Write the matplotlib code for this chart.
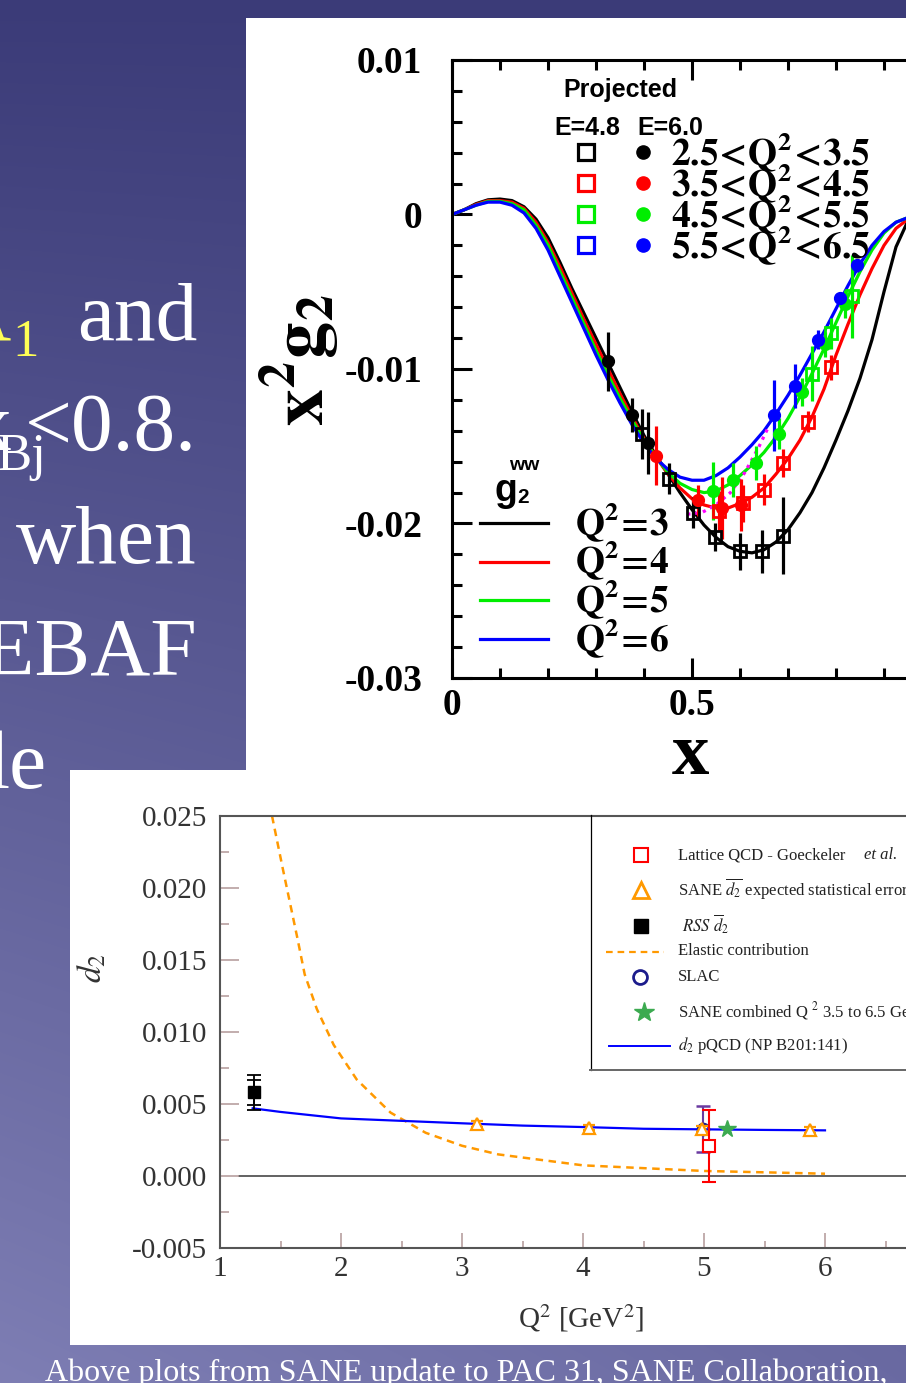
import numpy as np
import matplotlib
matplotlib.use('Agg')
import matplotlib.pyplot as plt
from matplotlib.patches import Rectangle
from matplotlib.ticker import MultipleLocator, FuncFormatter

plt.rcParams['axes.unicode_minus'] = False
plt.rcParams['mathtext.fontset'] = 'stix'
plt.rcParams['font.family'] = 'Liberation Serif'

W, H = 906, 1383

# ---------------- top plot: x^2 g2^WW and projected points ----------------
x_grid = [0.000, 0.025, 0.050, 0.075, 0.100, 0.125, 0.150, 0.175, 0.200, 0.225,
          0.250, 0.275, 0.300, 0.325, 0.350, 0.375, 0.400, 0.425, 0.450, 0.475,
          0.500, 0.525, 0.550, 0.575, 0.600, 0.625, 0.650, 0.675, 0.700, 0.725,
          0.750, 0.775, 0.800, 0.825, 0.850, 0.875, 0.900, 0.925, 0.950, 0.975, 1.000]
ww_q3 = [0, 0.0003, 0.0007, 0.00095, 0.0010, 0.0009, 0.0005, -0.0003, -0.0015, -0.0031,
         -0.0048, -0.0064, -0.0080, -0.0096, -0.0112, -0.0128, -0.0143, -0.0156, -0.0168, -0.0180,
         -0.0191, -0.0201, -0.0209, -0.0215, -0.0218, -0.0219, -0.0217, -0.0212, -0.0204, -0.0193,
         -0.0180, -0.0164, -0.0146, -0.0127, -0.0106, -0.0081, -0.0050, -0.0021, -0.0004, -0.0001, 0]
ww_q4 = [0, 0.0003, 0.00065, 0.0009, 0.0009, 0.0008, 0.0004, -0.0005, -0.0018, -0.0034,
         -0.0051, -0.0068, -0.0084, -0.0100, -0.0116, -0.0131, -0.0145, -0.0157, -0.0168, -0.0177,
         -0.0184, -0.0188, -0.0190, -0.0190, -0.0187, -0.0183, -0.0177, -0.0168, -0.0158, -0.0146,
         -0.0131, -0.0113, -0.0091, -0.0071, -0.0052, -0.0035, -0.0020, -0.0009, -0.0003, -0.0001, 0]
ww_q5 = [0, 0.0003, 0.0006, 0.00085, 0.00085, 0.0007, 0.0003, -0.0007, -0.0020, -0.0037,
         -0.0054, -0.0071, -0.0088, -0.0104, -0.0119, -0.0133, -0.0146, -0.0157, -0.0167, -0.0174,
         -0.0178, -0.0180, -0.0179, -0.0175, -0.0169, -0.0162, -0.0154, -0.0144, -0.0132, -0.0118,
         -0.0103, -0.0087, -0.0070, -0.0053, -0.0037, -0.0023, -0.0012, -0.0005, -0.0002, -0.0001, 0]
ww_q6 = [0, 0.0003, 0.0006, 0.0008, 0.0008, 0.0006, 0.0001, -0.0009, -0.0023, -0.0040,
         -0.0057, -0.0074, -0.0091, -0.0107, -0.0122, -0.0136, -0.0148, -0.0158, -0.0165, -0.0170,
         -0.0172, -0.0172, -0.0169, -0.0164, -0.0157, -0.0149, -0.0140, -0.0129, -0.0117, -0.0104,
         -0.0090, -0.0076, -0.0061, -0.0046, -0.0032, -0.0020, -0.0011, -0.0005, -0.0002, -0.0001, 0]

dot_x = [0.49, 0.52, 0.55, 0.58, 0.61, 0.64, 0.66]
dot_y = [-0.0194, -0.0193, -0.0188, -0.0180, -0.0167, -0.0150, -0.0137]

# E=4.8 (open squares) and E=6.0 (filled circles) projected points
blk_sq_x = [0.395, 0.453, 0.503, 0.548, 0.600, 0.645, 0.690]
blk_sq_y = [-0.0142, -0.0171, -0.0193, -0.0209, -0.0218, -0.0218, -0.0208]
blk_sq_e = [0.0016, 0.0010, 0.0010, 0.0009, 0.0012, 0.0014, 0.0025]
blk_ci_x = [0.325, 0.374, 0.409]
blk_ci_y = [-0.0095, -0.0130, -0.0148]
blk_ci_e = [0.0019, 0.0011, 0.0020]

red_sq_x = [0.556, 0.607, 0.650, 0.690, 0.742, 0.789]
red_sq_y = [-0.0192, -0.0187, -0.0178, -0.0161, -0.0134, -0.0099]
red_sq_e = [0.0013, 0.0012, 0.0010, 0.0009, 0.0007, 0.0008]
red_ci_x = [0.425, 0.512, 0.562, 0.603]
red_ci_y = [-0.0156, -0.0185, -0.0190, -0.0188]
red_ci_e = [0.0019, 0.0010, 0.0020, 0.0017]

grn_sq_x = [0.749, 0.789, 0.833]
grn_sq_y = [-0.0103, -0.0077, -0.0053]
grn_sq_e = [0.0018, 0.0010, 0.0027]
grn_ci_x = [0.543, 0.585, 0.633, 0.682, 0.729, 0.777, 0.819]
grn_ci_y = [-0.0179, -0.0172, -0.0161, -0.0142, -0.0115, -0.0084, -0.0058]
grn_ci_e = [0.0019, 0.0011, 0.0011, 0.0010, 0.0009, 0.0008, 0.0009]

blu_ci_x = [0.671, 0.715, 0.763, 0.808, 0.843]
blu_ci_y = [-0.0130, -0.0111, -0.0081, -0.0054, -0.0033]
blu_ci_e = [0.0023, 0.0014, 0.0006, 0.0004, 0.0004]

bin_labels = ['2.5\\!<\\!Q^{2}\\!<\\!3.5', '3.5\\!<\\!Q^{2}\\!<\\!4.5',
              '4.5\\!<\\!Q^{2}\\!<\\!5.5', '5.5\\!<\\!Q^{2}\\!<\\!6.5']
ww_labels = ['Q^{2}\\!=\\!3', 'Q^{2}\\!=\\!4', 'Q^{2}\\!=\\!5', 'Q^{2}\\!=\\!6']
colors = ['black', '#ff0000', '#00ee00', '#0000ff']

# ---------------- bottom plot: d2 vs Q^2 ----------------
elastic_q = [1.43, 1.52, 1.58, 1.64, 1.70, 1.80, 1.94, 2.13, 2.41, 2.70, 3.00, 3.30, 4.00, 5.00, 6.00]
elastic_d = [0.0250, 0.0213, 0.0189, 0.0165, 0.0140, 0.0116, 0.0091, 0.0067, 0.0044, 0.0030,
             0.0021, 0.0015, 0.00074, 0.00035, 0.00016]
pqcd_q = [1.27, 1.50, 2.00, 2.50, 3.00, 3.50, 4.00, 4.50, 5.00, 5.50, 6.00]
pqcd_d = [0.0047, 0.00445, 0.0040, 0.00383, 0.00366, 0.0035, 0.0034, 0.00328, 0.00324, 0.0032, 0.00317]
rss_q, rss_d, rss_e_out, rss_e_in = 1.28, 0.0058, 0.0012, 0.0009
sane_q = [3.12, 4.05, 4.98, 5.88]
sane_d = [0.0036, 0.00336, 0.00324, 0.00317]
sane_e = [0.0002, 0.0002, 0.0002, 0.0002]
slac_q, slac_d, slac_e = 4.99, 0.00324, 0.0016
lat_q, lat_d, lat_e = 5.04, 0.0021, 0.0025
comb_q, comb_d = 5.19, 0.00324
zero_start = 1.15

fig = plt.figure(figsize=(W / 100, H / 100), dpi=100)

# slide background
bg = fig.add_axes([0, 0, 1, 1], zorder=0)
yy = np.linspace(0, 1, H)[:, None]
xx = np.linspace(0, 1, W)[None, :]
t = yy * (1 - 0.3 * xx)
c_top = np.array([59, 59, 120]) / 255.
c_bot = np.array([126, 126, 180]) / 255.
bg.imshow(c_top + (c_bot - c_top) * t[..., None], extent=[0, W, H, 0], aspect='auto')
bg.add_patch(Rectangle((246, 18), W - 246, 770 - 18, color='white', lw=0))
bg.add_patch(Rectangle((70, 770), W - 70, 1345 - 770, color='white', lw=0))
bg.set_xlim(0, W)
bg.set_ylim(H, 0)
bg.axis('off')

# cropped slide text on the left
bg.text(197, 340, 'and', color='white', fontsize=60, ha='right', va='baseline')
bg.text(10, 340, 'A', color='#ffff55', fontsize=60, ha='right', va='baseline')
bg.text(12, 356, '1', color='#ffff55', fontsize=38, ha='left', va='baseline')
bg.text(197, 450, '<0.8.', color='white', fontsize=60, ha='right', va='baseline')
bg.text(46, 470, 'Bj', color='white', fontsize=38, ha='right', va='baseline')
bg.text(11, 450, 'x', color='white', fontsize=60, ha='right', va='baseline')
bg.text(197, 563, 'when', color='white', fontsize=60, ha='right', va='baseline')
bg.text(197, 675, 'CEBAF', color='white', fontsize=60, ha='right', va='baseline')
bg.text(46, 788, 'le', color='white', fontsize=60, ha='right', va='baseline')

# ---------- top axes ----------
ax = fig.add_axes([452 / W, (H - 678) / H, 480 / W, 618 / H], zorder=1)
ax.set_facecolor('none')
for yv, c in zip([ww_q3, ww_q4, ww_q5, ww_q6], colors):
    ax.plot(x_grid, yv, color=c, lw=2.3, zorder=2)
ax.plot(dot_x, dot_y, color='#ff00ff', lw=2.3, ls=(0, (1, 1.5)), zorder=2)

sq = [(blk_sq_x, blk_sq_y, blk_sq_e), (red_sq_x, red_sq_y, red_sq_e), (grn_sq_x, grn_sq_y, grn_sq_e)]
ci = [(blk_ci_x, blk_ci_y, blk_ci_e), (red_ci_x, red_ci_y, red_ci_e),
      (grn_ci_x, grn_ci_y, grn_ci_e), (blu_ci_x, blu_ci_y, blu_ci_e)]
for (px, py, pe), c in zip(sq, colors):
    ax.errorbar(px, py, yerr=pe, fmt='s', ms=8, mfc='none', mec=c, mew=2, ecolor=c,
                elinewidth=2.3, capsize=0, zorder=3)
for (px, py, pe), c in zip(ci, colors):
    ax.errorbar(px, py, yerr=pe, fmt='o', ms=8.5, color=c, ecolor=c,
                elinewidth=2.3, capsize=0, zorder=3)

ax.set_xlim(0, 1)
ax.set_ylim(-0.03, 0.01)
ax.xaxis.set_major_locator(MultipleLocator(0.5))
ax.xaxis.set_minor_locator(MultipleLocator(0.1))
ax.yaxis.set_major_locator(MultipleLocator(0.01))
ax.yaxis.set_minor_locator(MultipleLocator(0.002))
ax.xaxis.set_major_formatter(FuncFormatter(lambda v, p: '%g' % round(v, 3)))
ax.yaxis.set_major_formatter(FuncFormatter(lambda v, p: '%g' % round(v, 4)))
ax.tick_params(which='both', direction='in', top=True, right=True, width=2.2, labelsize=27)
ax.tick_params(which='major', length=14.5)
ax.tick_params(which='minor', length=7.5)
ax.tick_params(axis='y', pad=21.5)
ax.tick_params(axis='x', pad=7)
for lbl in ax.get_xticklabels() + ax.get_yticklabels():
    lbl.set_fontweight('bold')
for s in ax.spines.values():
    s.set_linewidth(2.2)
ax.set_xlabel('x', fontsize=54, fontweight='bold', va='baseline')
ax.xaxis.set_label_coords(0.496, -0.155)
ax.set_ylabel(r'$\mathbf{x^{2}g_{2}}$', fontsize=53, rotation=90, va='center', ha='center')
ax.yaxis.set_label_coords(-0.317, 0.515)

# ---------- bottom axes ----------
ax2 = fig.add_axes([220 / W, (H - 1248) / H, 726 / W, 432 / H], zorder=1)
ax2.set_facecolor('none')
ax2.set_xlim(1, 7)
ax2.set_ylim(-0.005, 0.025)
ax2.hlines(0, zero_start, 7, color='#555555', lw=1.3, zorder=1)
ax2.plot(elastic_q, elastic_d, color='#ff9900', lw=1.8, ls=(0, (3, 2.2)), zorder=2)
ax2.plot(pqcd_q, pqcd_d, color='#0000ff', lw=1.6, zorder=2)
ax2.errorbar([rss_q], [rss_d], yerr=rss_e_out, fmt='s', ms=8, color='black', ecolor='black',
             elinewidth=1.3, capsize=5, capthick=1.3, zorder=4)
ax2.errorbar([rss_q], [rss_d], yerr=rss_e_in, fmt='none', ecolor='black',
             elinewidth=1.3, capsize=5, capthick=1.3, zorder=4)
ax2.errorbar(sane_q, sane_d, yerr=sane_e, fmt='^', ms=9, mfc='white', mec='#ff9900', mew=1.6,
             ecolor='#ff9900', elinewidth=1.3, capsize=4, zorder=4)
ax2.errorbar([slac_q], [slac_d], yerr=slac_e, fmt='o', ms=8, mfc='none', mec='#1c1c8c', mew=1.8,
             ecolor='#6a3aa0', elinewidth=1.5, capsize=5, capthick=2, zorder=3)
ax2.errorbar([lat_q], [lat_d], yerr=lat_e, fmt='s', ms=8, mfc='white', mec='#ff0000', mew=1.5,
             ecolor='#ff0000', elinewidth=1.5, capsize=5, capthick=1.5, zorder=5)
ax2.plot([comb_q], [comb_d], marker='*', ms=13, color='#3caa50', ls='none', zorder=5)

ax2.xaxis.set_major_locator(MultipleLocator(1))
ax2.xaxis.set_minor_locator(MultipleLocator(0.5))
ax2.yaxis.set_major_locator(MultipleLocator(0.005))
ax2.yaxis.set_minor_locator(MultipleLocator(0.0025))
ax2.yaxis.set_major_formatter(FuncFormatter(lambda v, p: '%.3f' % v))
ax2.tick_params(which='both', direction='in', color='#b8a0a0', width=1.2,
                labelsize=21, labelcolor='#333333')
ax2.tick_params(axis='y', which='major', length=13.5, pad=9.4)
ax2.tick_params(axis='y', which='minor', length=6.5)
ax2.tick_params(axis='x', which='major', length=11, pad=6)
ax2.tick_params(axis='x', which='minor', length=5)
for s in ['left', 'bottom', 'top']:
    ax2.spines[s].set_color('#555555')
    ax2.spines[s].set_linewidth(1.5)
ax2.spines['right'].set_visible(False)
ax2.set_xlabel(r'Q$^{2}$ [GeV$^{2}$]', fontsize=21, color='#333333')
ax2.xaxis.set_label_coords(0.497, -0.162)
ax2.xaxis.label.set_va('center')
ax2.set_ylabel(r'$d_2$', fontsize=24, color='#333333', rotation=90, va='center', ha='center')
ax2.yaxis.set_label_coords(-0.176, 0.648)

# ---------- overlay: legends drawn in pixel space ----------
ov = fig.add_axes([0, 0, 1, 1], zorder=3)
ov.set_xlim(0, W)
ov.set_ylim(H, 0)
ov.axis('off')

sans = 'Liberation Sans'
ov.text(620, 90, 'Projected', family=sans, weight='bold', fontsize=18, ha='center', va='center')
ov.text(587, 128, 'E=4.8', family=sans, weight='bold', fontsize=18, ha='center', va='center')
ov.text(670, 128, 'E=6.0', family=sans, weight='bold', fontsize=18, ha='center', va='center')
for i, (lab, c) in enumerate(zip(bin_labels, colors)):
    yrow = 152 + 31 * i
    ov.plot(586, yrow, marker='s', ms=12, mfc='none', mec=c, mew=2.3)
    ov.plot(643, yrow, marker='o', ms=9.5, color=c)
    ov.text(671, yrow + 13, r'$\mathbf{' + lab + '}$', fontsize=27, ha='left', va='baseline')

ov.text(495, 501, 'g', family=sans, weight='bold', fontsize=27, ha='left', va='baseline')
ov.text(509, 470, 'ww', family=sans, weight='bold', fontsize=14, ha='left', va='baseline')
ov.text(517, 503, '2', family=sans, weight='bold', fontsize=15, ha='left', va='baseline')
for i, (lab, c) in enumerate(zip(ww_labels, colors)):
    yrow = 523 + 38.7 * i
    ov.plot([480, 548], [yrow, yrow], color=c, lw=2.3)
    ov.text(575, yrow + 12, r'$\mathbf{' + lab + '}$', fontsize=27, ha='left', va='baseline')

# d2 legend box
ov.plot([590.5, 590.5], [815, 1070], color='black', lw=0.9)
ov.plot([590, W], [1070, 1070], color='#666666', lw=1.4)
ov.plot(641, 855, marker='s', ms=10.5, mfc='none', mec='#ff0000', mew=1.5)
ov.plot(641, 890, marker='^', ms=11, mfc='none', mec='#ff9900', mew=2)
ov.plot(641, 926, marker='s', ms=10, color='black')
ov.plot([606, 664], [951.5, 951.5], color='#ff9900', lw=1.6, ls=(0, (3, 2.2)))
ov.plot(640, 977, marker='o', ms=10, mfc='none', mec='#1c1c8c', mew=2)
ov.plot(644, 1012, marker='*', ms=15, color='#3caa50')
ov.plot([609, 670], [1046, 1046], color='#0000ff', lw=1.4)
leg_fs = 12
tx = 678
ov.text(tx, 855, 'Lattice QCD - Goeckeler', fontsize=leg_fs, va='center', color='#222222')
ov.text(864, 855, 'et al.', fontsize=leg_fs, va='center', style='italic', color='#222222')
ov.text(tx, 889, r'SANE $\overline{d_2}$ expected statistical error', fontsize=leg_fs, va='center', color='#222222')
ov.text(tx + 4, 924, r'$RSS\ \overline{d}_2$', fontsize=leg_fs, va='center', color='#222222')
ov.text(tx, 951, 'Elastic contribution', fontsize=leg_fs, va='center', color='#222222')
ov.text(tx, 977, 'SLAC', fontsize=leg_fs, va='center', color='#222222')
ov.text(tx, 1011, r'SANE combined Q $^{2}$ 3.5 to 6.5 GeV$^{2}$', fontsize=leg_fs, va='center', color='#222222')
ov.text(tx, 1046, r'$d_2$ pQCD (NP B201:141)', fontsize=leg_fs, va='center', color='#222222')

# caption
ov.text(45, 1381, 'Above plots from SANE update to PAC 31, SANE Collaboration,',
        color='white', fontsize=23, ha='left', va='baseline')

fig.savefig('out.png', dpi=100)
